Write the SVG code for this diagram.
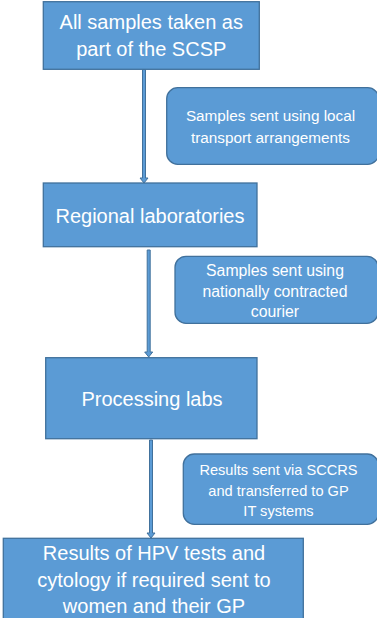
<svg xmlns="http://www.w3.org/2000/svg" width="377" height="618" viewBox="0 0 377 618">
<style>
.box{fill:#5B9BD5;stroke:#41719C;stroke-width:1.3}
.arr{fill:#5B9BD5;stroke:#41719C;stroke-width:1}
.t{font-family:"Liberation Sans",Arial,sans-serif;fill:#fff;text-anchor:middle}
.big{font-size:20px}
.sm{font-size:15.3px}
</style>
<rect width="377" height="618" fill="#fff"/>
<g id="connectors">
<path class="arr" d="M142.5 69.5 H145.5 V178 H148 L144 183 L140 178 H142.5 Z"/>
<path class="arr" d="M147.2 250 H150.2 V352 H152.7 L148.7 357 L144.7 352 H147.2 Z"/>
<path class="arr" d="M149.5 440 H152.5 V533 H155 L151 538 L147 533 H149.5 Z"/>
</g>
<g id="node1">
<rect class="box" x="43.3" y="1.7" width="216" height="67.6"/>
<text class="t big" x="151.3" y="29">All samples taken as</text>
<text class="t big" x="151.3" y="56">part of the SCSP</text>
</g>
<g id="callout1">
<rect class="box" x="166.7" y="87.7" width="212" height="76.6" rx="11"/>
<text class="t sm" x="270.5" y="120.7">Samples sent using local</text>
<text class="t sm" x="270.5" y="142.7">transport arrangements</text>
</g>
<g id="node2">
<rect class="box" x="43.3" y="183" width="213.7" height="63.7"/>
<text class="t big" x="150" y="222.7">Regional laboratories</text>
</g>
<g id="callout2">
<rect class="box" x="175" y="256.3" width="203" height="67" rx="11"/>
<text class="t sm" x="275" y="275.7" style="font-size:15.8px">Samples sent using</text>
<text class="t sm" x="275" y="296.7" style="font-size:15.8px">nationally contracted</text>
<text class="t sm" x="275" y="316.7" style="font-size:15.8px">courier</text>
</g>
<g id="node3">
<rect class="box" x="45.7" y="357.7" width="211.3" height="81"/>
<text class="t big" x="152" y="406">Processing labs</text>
</g>
<g id="callout3">
<rect class="box" x="183.3" y="454" width="195" height="70.3" rx="11"/>
<text class="t sm" x="278.5" y="475" style="font-size:14.6px">Results sent via SCCRS</text>
<text class="t sm" x="278.5" y="495.7" style="font-size:14.6px">and transferred to GP</text>
<text class="t sm" x="278.5" y="516" style="font-size:14.6px">IT systems</text>
</g>
<g id="node4">
<rect class="box" x="3.3" y="538.3" width="300" height="90"/>
<text class="t big" x="154" y="560">Results of HPV tests and</text>
<text class="t big" x="154" y="586.7">cytology if required sent to</text>
<text class="t big" x="154" y="613.3">women and their GP</text>
</g>
</svg>
